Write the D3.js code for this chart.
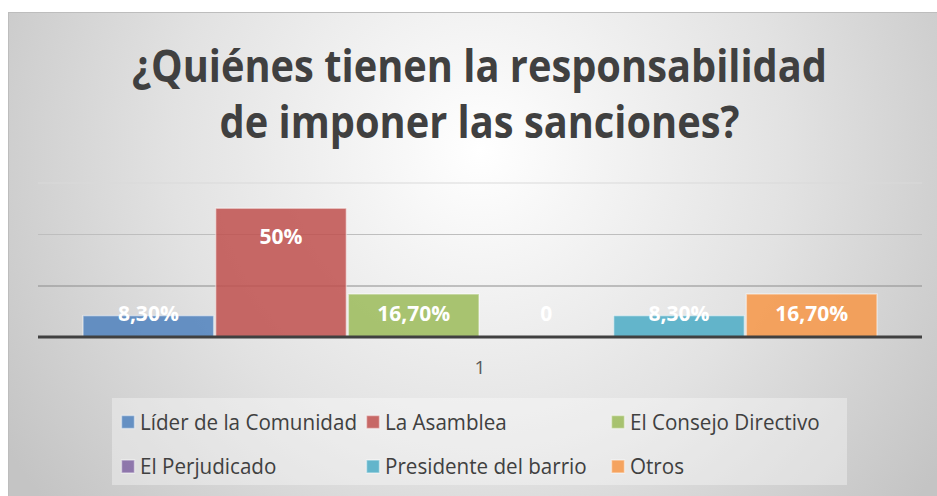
<!DOCTYPE html>
<html>
<head>
<meta charset="utf-8">
<script src="https://cdn.jsdelivr.net/npm/d3@7/dist/d3.min.js"></script>
<style>
  html, body { margin: 0; padding: 0; background: #ffffff; }
  svg { display: block; }
</style>
</head>
<body>
<div id="chartArea"></div>
<script>

// data
var categories = ["1"];
var seriesNames = ["Líder de la Comunidad", "La Asamblea", "El Consejo Directivo",
                   "El Perjudicado", "Presidente del barrio", "Otros"];
var seriesValues = [0.083, 0.50, 0.167, 0, 0.083, 0.167];
var seriesLabels = ["8,30%", "50%", "16,70%", "0", "8,30%", "16,70%"];
var seriesColors = ["#4f81bd", "#c0504d", "#9bbb59", "#8064a2", "#4bacc6", "#f79646"];
var gridTicks = [0.2, 0.4, 0.6];
var titleLines = ["¿Quiénes tienen la responsabilidad", "de imponer las sanciones?"];

var width = 937, height = 496;
var font = "'Open Sans', 'Noto Sans', sans-serif";
var textColour = "#404040";

// plot area (pixels)
var plot = {left: 38, right: 922, top: 182.5, bottom: 337};

var svg = d3.select("#chartArea")
    .append("svg")
    .attr("width", width)
    .attr("height", height);

// background: soft radial gradient, white near the title
var defs = svg.append("defs");
var grad = defs.append("radialGradient")
    .attr("id", "bgGrad")
    .attr("gradientUnits", "userSpaceOnUse")
    .attr("cx", 480).attr("cy", 150).attr("r", 560);
grad.append("stop").attr("offset", "0").attr("stop-color", "#ffffff");
grad.append("stop").attr("offset", "0.55").attr("stop-color", "#e2e2e2");
grad.append("stop").attr("offset", "1").attr("stop-color", "#c4c4c4");

svg.append("rect")
    .attr("x", 8.5).attr("y", 12.5)
    .attr("width", width).attr("height", height)
    .attr("fill", "url(#bgGrad)")
    .attr("stroke", "#bdbdbd")
    .attr("stroke-width", 1);

// title, squeezed so Open Sans runs as narrow as the original face
var titleGroup = svg.append("g").attr("id", "titleGroup");
var titleText = titleGroup.selectAll("text")
    .data(titleLines)
    .enter()
    .append("text")
    .attr("x", 479.5)
    .attr("y", function (d, i) { return 82 + i * 56; })
    .attr("text-anchor", "middle")
    .attr("font-family", font)
    .attr("font-weight", 700)
    .attr("font-size", 45)
    .attr("fill", textColour)
    .text(function (d) { return d; });

var titleSqueeze = 695 / titleText.node().getComputedTextLength();
titleText.each(function () {
    var w = this.getComputedTextLength();
    d3.select(this).attr("textLength", w * titleSqueeze).attr("lengthAdjust", "spacingAndGlyphs");
});

// scales
var y = d3.scaleLinear().domain([0, 0.6]).range([plot.bottom, plot.top]);
var x0 = d3.scaleBand().domain(categories).range([plot.left, plot.right]).paddingInner(0).paddingOuter(0.0553);
var x1 = d3.scaleBand().domain(d3.range(seriesNames.length)).range([0, x0.bandwidth()]).padding(0);

// gridlines - each one a different grey in the original
var gridGroup = svg.append("g")
    .attr("id", "gridGroup")
    .attr("transform", "translate(" + plot.left + ",0)")
    .call(d3.axisLeft(y).tickValues(gridTicks).tickSize(-(plot.right - plot.left)).tickFormat(""));
gridGroup.select(".domain").remove();
var gridColour = {"0.2": "#8c8c8c", "0.4": "#bebebe", "0.6": "#d9d9d9"};
gridGroup.selectAll(".tick line")
    .attr("stroke", function (d) { return gridColour[String(d)]; })
    .attr("stroke-width", 1.2);

// bars
var barGroup = svg.append("g").attr("id", "barGroup");
categories.forEach(function (cat) {
    var g = barGroup.append("g").attr("transform", "translate(" + x0(cat) + ",0)");
    g.selectAll("rect")
        .data(seriesValues)
        .enter()
        .append("rect")
        .attr("x", function (d, i) { return x1(i) + 1; })
        .attr("y", function (d) { return y(d); })
        .attr("width", x1.bandwidth() - 2)
        .attr("height", function (d) { return y(0) - y(d); })
        .attr("fill", function (d, i) { return seriesColors[i]; })
        .attr("fill-opacity", 0.85)
        .attr("stroke", "#ffffff")
        .attr("stroke-opacity", 0.45)
        .attr("stroke-width", 1.5)
        .style("display", function (d) { return d > 0 ? null : "none"; });

    // data labels, inside end, pushed up when the bar is short
    g.selectAll("text")
        .data(seriesValues)
        .enter()
        .append("text")
        .attr("x", function (d, i) { return x1(i) + x1.bandwidth() / 2; })
        .attr("y", function (d) { return Math.min(y(d) + 28, y(0) - 24); })
        .attr("dy", "0.36em")
        .attr("text-anchor", "middle")
        .attr("font-family", font)
        .attr("font-weight", 700)
        .attr("font-size", 21)
        .attr("fill", "#ffffff")
        .text(function (d, i) { return seriesLabels[i]; });

    svg.append("text")
        .attr("x", x0(cat) + x0.bandwidth() / 2)
        .attr("y", 374)
        .attr("text-anchor", "middle")
        .attr("font-family", font)
        .attr("font-size", 19)
        .attr("fill", "#595959")
        .text(cat);
});

// category axis line
svg.append("line")
    .attr("x1", plot.left).attr("x2", plot.right)
    .attr("y1", y(0)).attr("y2", y(0))
    .attr("stroke", "#404040")
    .attr("stroke-width", 3);

// legend
var legendGroup = svg.append("g").attr("id", "legendGroup");
legendGroup.append("rect")
    .attr("x", 112).attr("y", 398)
    .attr("width", 735).attr("height", 87)
    .attr("fill", "#ffffff")
    .attr("fill-opacity", 0.35);

var legendItem = legendGroup.selectAll(".legendItem")
    .data(seriesNames)
    .enter()
    .append("g")
    .attr("class", "legendItem")
    .attr("transform", function (d, i) {
        return "translate(" + (121 + (i % 3) * 245) + "," + (422 + Math.floor(i / 3) * 44.5) + ")";
    });

legendItem.append("rect")
    .attr("x", 0.5).attr("y", -6.5)
    .attr("width", 13).attr("height", 13)
    .attr("fill", function (d, i) { return seriesColors[i]; })
    .attr("fill-opacity", 0.85)
    .attr("stroke", "#ffffff")
    .attr("stroke-opacity", 0.45)
    .attr("stroke-width", 1.5);

var legendText = legendItem.append("text")
    .attr("x", 19)
    .attr("y", 0)
    .attr("dy", "0.36em")
    .attr("font-family", font)
    .attr("font-size", 21.5)
    .attr("fill", textColour)
    .text(function (d) { return d; });

var legendSqueeze = 217 / legendText.node().getComputedTextLength();
legendText.each(function () {
    var w = this.getComputedTextLength();
    d3.select(this).attr("textLength", w * legendSqueeze).attr("lengthAdjust", "spacingAndGlyphs");
});

console.log("chart drawn");
</script>
</body>
</html>
